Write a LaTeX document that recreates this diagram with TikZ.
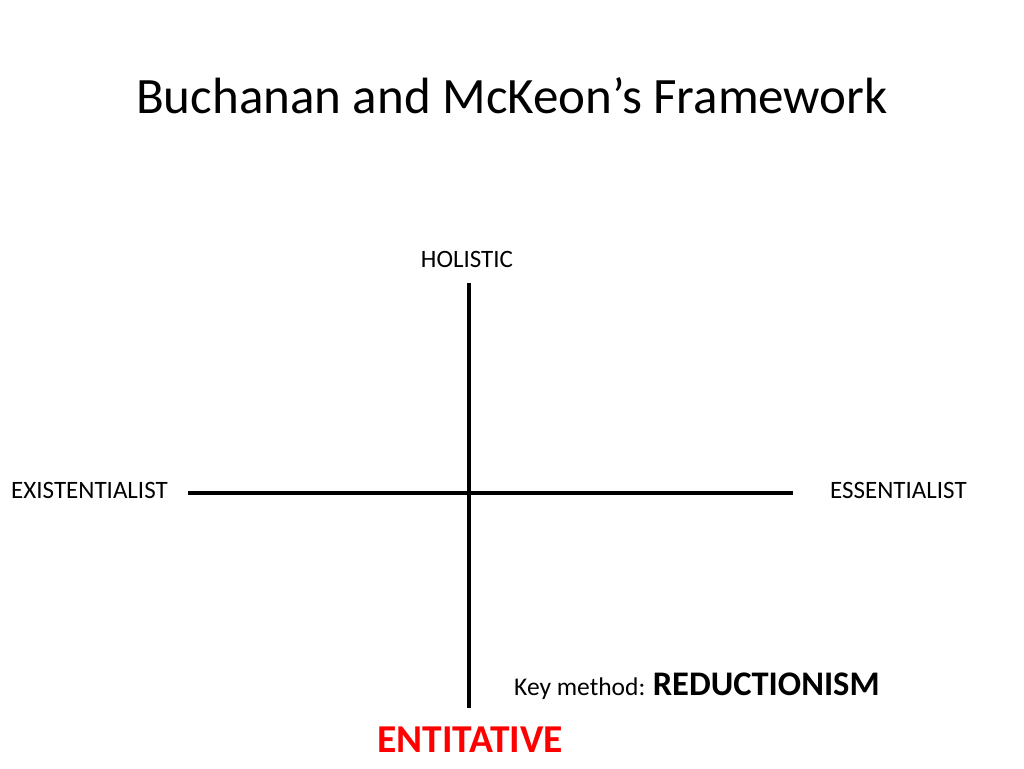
\documentclass[tikz,border=0pt]{standalone}
\usepackage{fontspec}
\setmainfont{Carlito}
\usetikzlibrary{positioning}

\begin{document}
\begin{tikzpicture}[x=1pt, y=-1pt, font=\fontsize{25}{30}\selectfont,
	axislabel/.style={inner sep=0pt, anchor=base},
	axis/.style={line width=4pt}]

\useasboundingbox (0,0) rectangle (1024,768);

\node[axislabel, font=\fontsize{51}{60}\selectfont] (title) at (512,113) {Buchanan and McKeon’s Framework};

% axes
\coordinate (top) at (469,283);
\coordinate (bottom) at (469,708);
\coordinate (left) at (188,493);
\coordinate (right) at (793,493);

\draw[axis] (top) -- (bottom);
\draw[axis] (left) -- (right);

\node[axislabel] (holistic) at (467,267) {HOLISTIC};
\node[axislabel, anchor=base west] (exist) at (11,498) {EXISTENTIALIST};
\node[axislabel, anchor=base west] (essent) at (830,498) {ESSENTIALIST};

\node[axislabel, anchor=base west, font=\fontsize{25.5}{30}\selectfont] (key) at (514,695) {Key method:};
\node[axislabel, right=7pt of key.base east, anchor=base west, font=\fontsize{34.5}{40}\bfseries] (method) {REDUCTIONISM};

\node[axislabel, text=red, font=\fontsize{39.5}{46}\bfseries] (entit) at (470,752) {ENTITATIVE};

\end{tikzpicture}
\end{document}
